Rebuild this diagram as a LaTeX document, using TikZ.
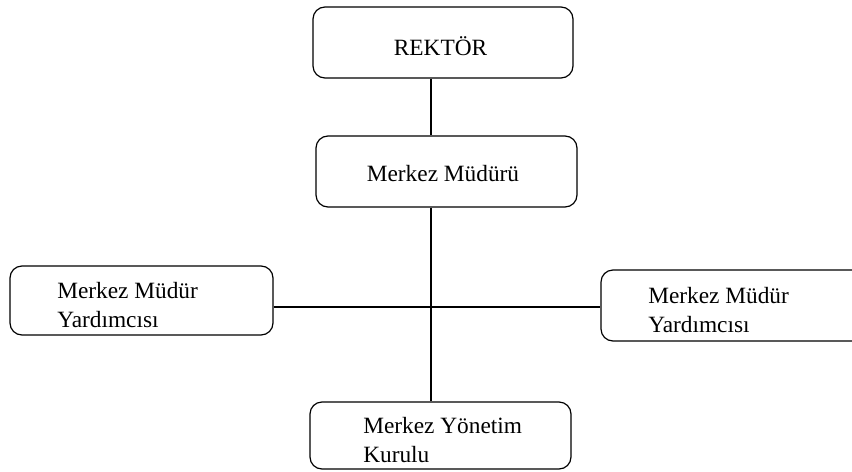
\documentclass[tikz,border=0pt]{standalone}
\usepackage{fontspec}
\setmainfont{Liberation Serif}
\usetikzlibrary{calc}

\begin{document}
\begin{tikzpicture}[x=0.75pt, y=-0.75pt]
    \tikzset{unit box/.style={draw, rounded corners=9pt, line width=0.9pt, inner sep=0pt},
             unit text/.style={inner sep=0pt, align=left, font=\fontsize{17.5}{21.75}\selectfont},
             link/.style={line width=0.9pt}}
    \useasboundingbox (0,0) rectangle (852,471);
    \clip (0,0) rectangle (852,471);
    % Boxes
    \node (rektor) [unit box, minimum width=195pt, minimum height=53.25pt] at (443,42.5) {};
    \node (mudur) [unit box, minimum width=195.75pt, minimum height=53.25pt] at (446.5,171.5) {};
    \node (lyard) [unit box, minimum width=197.25pt, minimum height=51.75pt] at (141.5,300.5) {};
    \node (ryard) [unit box, minimum width=197.25pt, minimum height=53.25pt] at (732.5,305.5) {};
    \node (kurul) [unit box, minimum width=195.75pt, minimum height=50.25pt] at (440.5,435.5) {};

    % Texts
    \node (rektortext) [unit text, anchor=base] at (440.5,55) {REKTÖR};
    \node (mudurtext) [unit text, anchor=base] at (443,181) {Merkez Müdürü};
    \node (lyardtext) [unit text, anchor=north west] at (57,282.3) {Merkez Müdür\\Yardımcısı};
    \node (ryardtext) [unit text, anchor=north west] at (648,287.3) {Merkez Müdür\\Yardımcısı};
    \node (kurultext) [unit text, anchor=north west] at (363,417.3) {Merkez Yönetim\\Kurulu};

    % Lines
    \coordinate (hub) at (431,307);
    \draw [link] (rektor.south -| hub) -- (mudur.north -| hub);
    \draw [link] (mudur.south -| hub) -- (kurul.north -| hub);
    \draw [link] (lyard.east |- hub) -- (ryard.west |- hub);
\end{tikzpicture}
\end{document}
